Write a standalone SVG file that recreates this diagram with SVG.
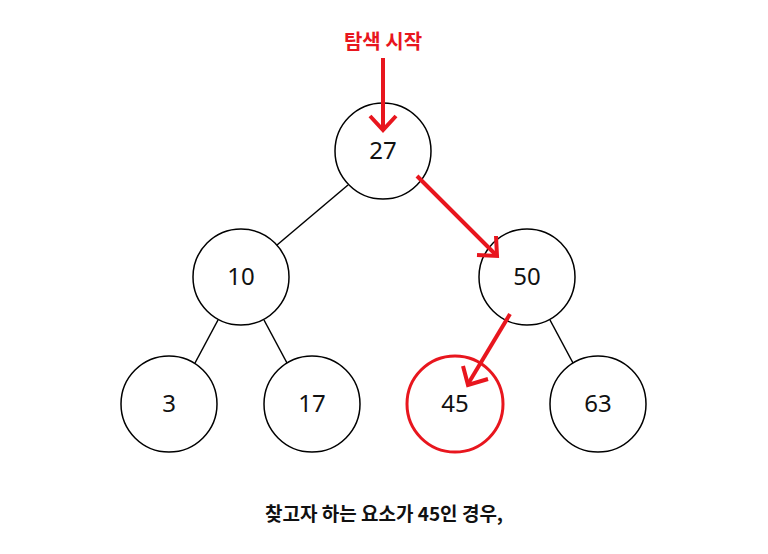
<svg xmlns="http://www.w3.org/2000/svg" width="768" height="554" viewBox="0 0 768 554">
<style>
.n{fill:#fff;stroke:#000;stroke-width:1.5}
.hl{fill:#fff;stroke:#e8161e;stroke-width:3}
.t{font-family:"Noto Sans","Noto Sans CJK KR",sans-serif;font-size:24px;fill:#111;text-anchor:middle;dominant-baseline:central}
.e{stroke:#000;stroke-width:1.5;fill:none}
.r{stroke:#e8161e;stroke-width:4;fill:none;stroke-linecap:butt}
.lbl{font-family:"Noto Sans CJK KR",sans-serif;font-weight:bold;text-anchor:middle}
</style>
<rect width="768" height="554" fill="#fff"/>
<g id="edges">
<line class="e" x1="348" y1="185" x2="277" y2="245"/>
<line class="e" x1="218" y1="320" x2="195" y2="363"/>
<line class="e" x1="264" y1="320" x2="287" y2="363"/>
<line class="e" x1="550" y1="320" x2="573" y2="363"/>
</g>
<g id="n27"><circle class="n" cx="383" cy="151" r="48"/><text class="t" x="383" y="149">27</text></g>
<g id="n10"><circle class="n" cx="241" cy="277" r="48"/><text class="t" x="241" y="275">10</text></g>
<g id="n50"><circle class="n" cx="527" cy="277" r="48"/><text class="t" x="527" y="275">50</text></g>
<g id="n3"><circle class="n" cx="169" cy="404" r="48"/><text class="t" x="169" y="402">3</text></g>
<g id="n17"><circle class="n" cx="312" cy="404" r="48"/><text class="t" x="312" y="402">17</text></g>
<g id="n45"><circle class="hl" cx="455" cy="404" r="48"/><text class="t" x="455" y="402">45</text></g>
<g id="n63"><circle class="n" cx="598" cy="404" r="48"/><text class="t" x="598" y="402">63</text></g>
<g id="arrows">
<line class="r" x1="383" y1="58" x2="383" y2="130"/>
<polyline class="r" points="370,116 383,130 396,116"/>
<line class="r" x1="417" y1="176" x2="496" y2="255"/>
<polyline class="r" points="477,255 497,256 496,236"/>
<line class="r" x1="510" y1="314" x2="468" y2="384"/>
<polyline class="r" points="463,366 468,385 488,379"/>
</g>
<text class="lbl" x="383" y="49" font-size="20" fill="#e8161e">탐색 시작</text>
<text class="lbl" x="384" y="521" font-size="19" fill="#111">찾고자 하는 요소가 45인 경우,</text>
</svg>
